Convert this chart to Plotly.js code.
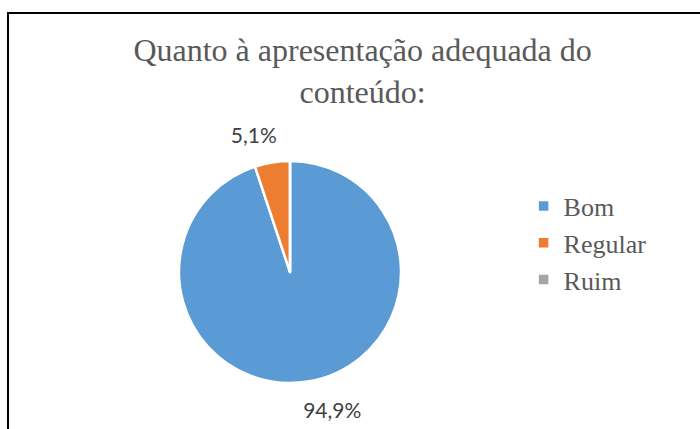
<!DOCTYPE html>
<html><head><meta charset="utf-8">
<script src="https://cdn.plot.ly/plotly-3.0.1.min.js"></script>
<style>
html,body{margin:0;padding:0;background:#fff;}
#wrap{position:relative;width:700px;height:429px;overflow:hidden;}
#chart{width:700px;height:429px;}
#frame{position:absolute;left:7px;top:12px;width:710px;height:430px;border-left:2px solid #000;border-top:2px solid #000;pointer-events:none;}
</style></head>
<body><div id="wrap"><div id="chart"></div><div id="frame"></div></div>
<script>
const categories = ['Bom', 'Regular', 'Ruim'];
const values = [94.9, 5.1, 0];
const colors = ['#5B9BD5', '#ED7D31', '#A5A5A5'];
const titleText = 'Quanto à apresentação adequada do<br>conteúdo:';

const labelTpl = values.map(v => v > 0 ? '%{percent:.1%}' : '');
const labelFont = {family: 'Lato, "Open Sans", sans-serif', size: 21, color: '#404040'};

// pie geometry (pixels in a 700x429 paper)
const cx = 290, cy = 272, r = 111, rLab = 125;
const W = 700, H = 429;
const dom = (rad) => ({x: [(cx - rad) / W, (cx + rad) / W], y: [1 - (cy + rad) / H, 1 - (cy - rad) / H]});

Plotly.newPlot('chart', [{
  type: 'pie',
  labels: categories,
  values: values,
  sort: false,
  direction: 'clockwise',
  rotation: 0,
  marker: {colors: colors, line: {color: '#ffffff', width: 2.5}},
  textinfo: 'none',
  hoverinfo: 'label+percent',
  domain: dom(r)
}, {
  // transparent copy, slightly larger, that only carries the outside percentage labels
  type: 'pie',
  labels: categories,
  values: values,
  sort: false,
  direction: 'clockwise',
  rotation: 6,
  showlegend: false,
  marker: {colors: ['rgba(0,0,0,0)', 'rgba(0,0,0,0)', 'rgba(0,0,0,0)'], line: {width: 0}},
  texttemplate: labelTpl,
  textposition: 'outside',
  textfont: labelFont,
  outsidetextfont: labelFont,
  hoverinfo: 'skip',
  domain: dom(rLab)
}], {
  width: W, height: H,
  margin: {l: 0, r: 0, t: 0, b: 0},
  paper_bgcolor: '#ffffff',
  separators: ',.',
  title: {
    text: titleText,
    font: {family: '"Liberation Serif", "Times New Roman", serif', size: 32, color: '#595959'},
    x: 0.518, xanchor: 'center', y: 0.858, yanchor: 'middle'
  },
  showlegend: true,
  legend: {
    x: 0.748, xanchor: 'left', y: 0.4336, yanchor: 'middle',
    font: {family: '"Liberation Serif", "Times New Roman", serif', size: 26, color: '#595959'},
    itemwidth: 30
  }
}, {displayModeBar: false, staticPlot: true});
</script></body></html>
